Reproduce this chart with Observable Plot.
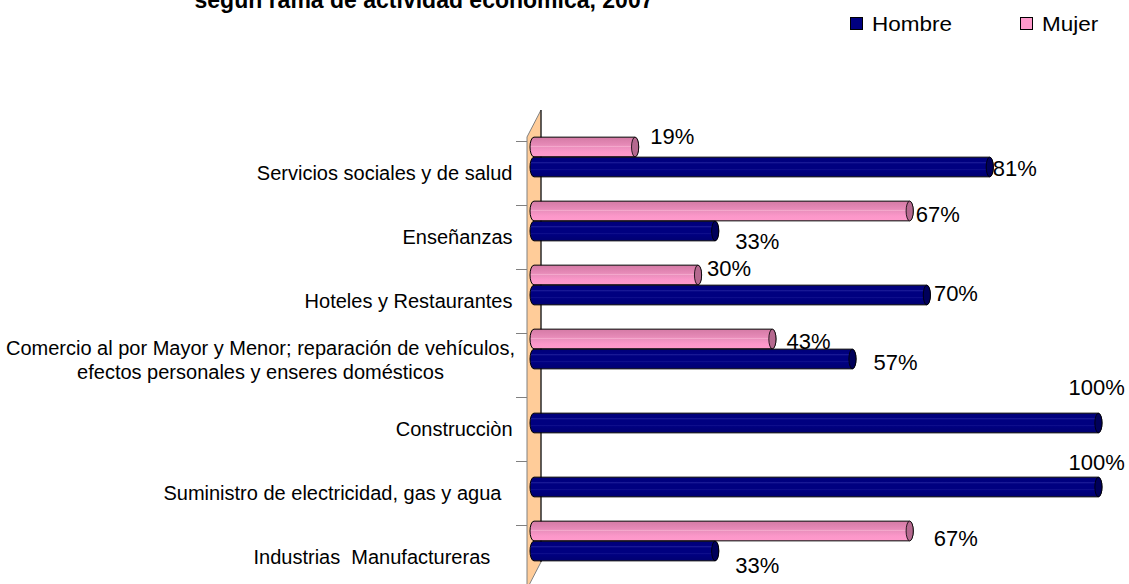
<!DOCTYPE html>
<html><head><meta charset="utf-8">
<script src="https://cdn.jsdelivr.net/npm/d3@7"></script>
<script src="https://cdn.jsdelivr.net/npm/@observablehq/plot@0.6"></script>
<style>
html,body{margin:0;padding:0;background:#fff;overflow:hidden;}
#wrap{position:relative;width:1129px;height:584px;overflow:hidden;font-family:"Liberation Sans",Arial,sans-serif;color:#000;}
.t{position:absolute;white-space:pre;line-height:1;transform-origin:left center;}
.sw{position:absolute;width:11px;height:11px;border:1px solid #000;}
#chart{position:absolute;left:0;top:0;}
svg text{white-space:pre;}
</style></head><body><div id="wrap">
<div id="chart"></div>
<div class="t" style="left:424px;top:-11.5px;font-size:23px;font-weight:bold;transform:translateX(-50%);">según rama de actividad económica, 2007</div>
<div class="sw" style="left:850px;top:17px;background:#000080"></div>
<div class="t" style="left:872px;top:13px;font-size:21px;transform:scaleX(1.07)">Hombre</div>
<div class="sw" style="left:1020px;top:17px;background:#FF99CC"></div>
<div class="t" style="left:1042px;top:13px;font-size:21px;transform:scaleX(1.07)">Mujer</div>
</div>
<script>
// ---- data ----
const categorias = [
  "Servicios sociales y de salud",
  "Enseñanzas",
  "Hoteles y Restaurantes",
  "Comercio al por Mayor y Menor; reparación de vehículos,\nefectos personales y enseres domésticos",
  "Construcciòn",
  "Suministro de electricidad, gas y agua  ",
  "Industrias  Manufactureras    "
];
const hombre = [81, 33, 70, 57, 100, 100, 33];
const mujer  = [19, 67, 30, 43, 0, 0, 67];
const series = ["Mujer", "Hombre"];

// label placement (style only): [dx, dy] relative to bar end / bar centre
const labelPlacement = {
  Mujer:  [[11,-11],[2,3],[5,-7],[10,2],null,null,[20,7]],
  Hombre: [[-1,1],[16,10],[3,-2],[17,3],[-34,-36],[-34,-25],[16,14]]
};

const rows = categorias.flatMap((c, i) => [
  {cat: c, sexo: "Mujer", valor: mujer[i], i},
  {cat: c, sexo: "Hombre", valor: hombre[i], i}
]);

const barDy = {Mujer: -26, Hombre: -6};
const fillOf = {Mujer: "url(#gPink)", Hombre: "url(#gNavy)"};
const capOf = {Mujer: "#b5698f", Hombre: "#00005a"};

function defs() {
  const d = d3.create("svg:defs");
  const mk = (id, stops) => {
    const g = d.append("linearGradient").attr("id", id).attr("x1",0).attr("y1",0).attr("x2",0).attr("y2",1);
    stops.forEach(([o,c]) => g.append("stop").attr("offset", o).attr("stop-color", c));
  };
  mk("gPink", [[0,"#d47aa5"],[0.3,"#e286b3"],[0.42,"#e88cb9"],[0.47,"#f4aacd"],[0.52,"#ec90be"],[0.75,"#fb97c9"],[1,"#ff9acc"]]);
  mk("gNavy", [[0,"#000078"],[0.22,"#000080"],[0.28,"#1c1c98"],[0.34,"#000080"],[0.6,"#000080"],[0.64,"#141490"],[0.68,"#000080"],[1,"#000070"]]);
  return d.node();
}

function wall(index, scales, values, dims) {
  const g = d3.create("svg:g");
  const mt = dims.marginTop, mb = dims.height - dims.marginBottom;
  const lx = dims.marginLeft - 3, rx = lx + 14, depthY = 27;
  g.append("path")
    .attr("d", `M${lx},${mt-3}L${rx},${mt-3-depthY}L${rx},${mb-1-depthY}L${lx},${mb-1}Z`)
    .attr("fill", "#FFCC99").attr("stroke", "#808080").attr("stroke-width", 1);
  g.append("line").attr("x1", rx).attr("x2", rx).attr("y1", mt-3-depthY).attr("y2", mb-1-depthY)
    .attr("stroke", "#000").attr("stroke-width", 1);
  const y = scales.y;
  categorias.forEach(c => {
    const yy = Math.round(y(c)) + 0.5;
    g.append("line").attr("x1", lx-11).attr("x2", lx).attr("y1", yy).attr("y2", yy)
      .attr("stroke", "#808080").attr("stroke-width", 1);
  });
  return g.node();
}

const marks = [defs, wall];
for (const s of series) {
  const data = rows.filter(d => d.sexo === s && d.valor > 0);
  marks.push(Plot.barX(data, {
    x1: 0, x2: "valor", y: "cat", dy: barDy[s],
    insetTop: 22.15, insetBottom: 22.15,
    fill: fillOf[s], stroke: "#000", strokeWidth: 1, rx: 4, ry: 10
  }));
  marks.push(Plot.barX(data, {
    x1: d => d.valor - 1.25, x2: "valor", y: "cat", dy: barDy[s],
    insetTop: 22.15, insetBottom: 22.15,
    fill: capOf[s], stroke: "#000", strokeWidth: 0.8, rx: 3.5, ry: 10
  }));
}
// value labels
for (const s of series) {
  rows.filter(d => d.sexo === s && d.valor > 0).forEach(d => {
    const [dx, dy] = labelPlacement[s][d.i];
    marks.push(Plot.text([d], {
      x: "valor", y: "cat", text: d => d.valor + "%",
      dx, dy: barDy[s] + dy, textAnchor: "start",
      fontSize: 22, fill: "#000"
    }));
  });
}
// category labels
const single = categorias.filter(c => !c.includes("\n"));
const multi = categorias.filter(c => c.includes("\n"));
marks.push(Plot.text(single, {
  y: d => d, text: d => d, frameAnchor: "left", textAnchor: "end", dx: -18,
  fontSize: 20, fill: "#000"
}));
marks.push(Plot.text(multi, {
  y: d => d, text: d => d, frameAnchor: "left", textAnchor: "middle", dx: -270, dy: -6,
  fontSize: 20, lineHeight: 1.2, fill: "#000"
}));

const plot = Plot.plot({
  width: 1129, height: 600,
  marginLeft: 530, marginRight: 27, marginTop: 140, marginBottom: 10,
  style: {fontFamily: "'Liberation Sans', Arial, sans-serif", background: "transparent", overflow: "visible"},
  x: {domain: [0, 100], axis: null},
  y: {domain: categorias, axis: null, padding: 0},
  marks
});
document.getElementById("chart").appendChild(plot);
</script>
</body></html>
